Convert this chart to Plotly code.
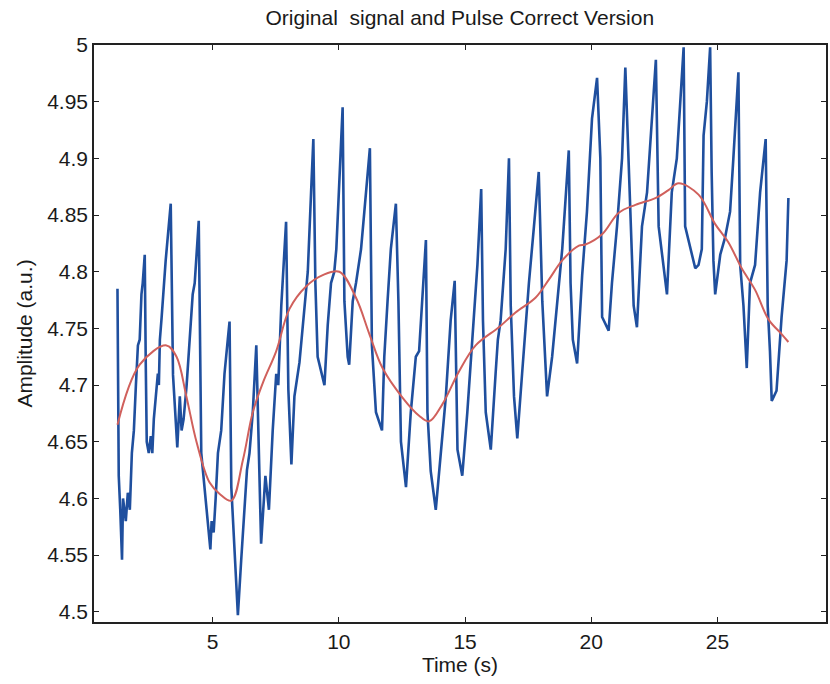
import plotly.graph_objects as go

# Raw pulse signal (time in s, amplitude in a.u.)
signal_t = [
    1.23, 1.26, 1.28, 1.34, 1.41, 1.45, 1.56, 1.64, 1.72, 1.80, 1.88, 1.96, 2.04, 2.11, 2.18, 2.23, 2.31,
    2.35, 2.39, 2.47, 2.55, 2.61, 2.67, 2.75, 2.83, 2.87, 2.91, 2.98, 3.06, 3.14, 3.22, 3.34,
    3.43, 3.54, 3.60, 3.70, 3.77, 3.85, 3.97, 4.09, 4.21, 4.29, 4.39, 4.45,
    4.55, 4.68, 4.80, 4.91, 4.96, 5.04, 5.12, 5.21, 5.34, 5.47, 5.60, 5.67,
    5.74, 5.87, 6.00, 6.13, 6.26, 6.36, 6.46, 6.59, 6.73,
    6.83, 6.92, 7.09, 7.23, 7.38, 7.52, 7.60, 7.72, 7.91,
    8.00, 8.12, 8.24, 8.44, 8.64, 8.77, 8.90, 8.99,
    9.07, 9.16, 9.43, 9.56, 9.69, 9.82, 9.90, 10.02, 10.15,
    10.22, 10.35, 10.41, 10.55, 10.68, 10.88, 11.01, 11.23,
    11.31, 11.47, 11.71, 11.80, 11.93, 12.06, 12.26,
    12.36, 12.46, 12.66, 12.85, 13.05, 13.18, 13.31, 13.45,
    13.51, 13.64, 13.84, 14.04, 14.24, 14.43, 14.59,
    14.70, 14.89, 15.09, 15.29, 15.49, 15.64,
    15.71, 15.82, 16.02, 16.21, 16.30, 16.41, 16.61, 16.74,
    16.81, 16.94, 17.07, 17.26, 17.53, 17.73, 17.92,
    18.06, 18.19, 18.25, 18.45, 18.65, 18.85, 19.11,
    19.18, 19.27, 19.44, 19.64, 19.83, 20.03, 20.23,
    20.36, 20.43, 20.69, 20.82, 21.02, 21.22, 21.35,
    21.48, 21.68, 21.81, 22.01, 22.21, 22.40, 22.56,
    22.67, 23.00, 23.19, 23.39, 23.66,
    23.72, 24.12, 24.25, 24.38, 24.45, 24.58, 24.71,
    24.77, 24.84, 24.91, 25.11, 25.30, 25.50, 25.63, 25.83,
    25.90, 26.03, 26.16, 26.29, 26.49, 26.69, 26.91,
    26.99, 27.08, 27.15, 27.34, 27.54, 27.74, 27.81,
]
signal_v = [
    4.785, 4.676, 4.620, 4.590, 4.546, 4.600, 4.580, 4.605, 4.590, 4.640, 4.660, 4.700, 4.735, 4.740, 4.780, 4.790, 4.815,
    4.720, 4.650, 4.640, 4.655, 4.640, 4.670, 4.690, 4.710, 4.700, 4.740, 4.760, 4.790, 4.810, 4.830, 4.860,
    4.709, 4.660, 4.645, 4.690, 4.660, 4.670, 4.700, 4.740, 4.780, 4.790, 4.830, 4.845,
    4.640, 4.610, 4.580, 4.555, 4.580, 4.570, 4.600, 4.640, 4.660, 4.710, 4.740, 4.756,
    4.610, 4.550, 4.497, 4.545, 4.595, 4.625, 4.640, 4.676, 4.735,
    4.627, 4.560, 4.620, 4.590, 4.660, 4.710, 4.700, 4.770, 4.844,
    4.696, 4.630, 4.690, 4.720, 4.770, 4.800, 4.870, 4.917,
    4.790, 4.725, 4.700, 4.753, 4.790, 4.800, 4.820, 4.880, 4.945,
    4.774, 4.725, 4.718, 4.774, 4.790, 4.820, 4.853, 4.909,
    4.735, 4.676, 4.660, 4.725, 4.774, 4.820, 4.860,
    4.774, 4.650, 4.610, 4.676, 4.725, 4.730, 4.774, 4.828,
    4.676, 4.624, 4.590, 4.643, 4.690, 4.757, 4.792,
    4.643, 4.620, 4.676, 4.740, 4.806, 4.873,
    4.757, 4.676, 4.643, 4.710, 4.740, 4.757, 4.820, 4.900,
    4.770, 4.690, 4.653, 4.710, 4.790, 4.840, 4.888,
    4.774, 4.710, 4.690, 4.725, 4.774, 4.820, 4.907,
    4.790, 4.740, 4.719, 4.797, 4.853, 4.935, 4.971,
    4.900, 4.760, 4.748, 4.790, 4.840, 4.900, 4.980,
    4.900, 4.770, 4.751, 4.840, 4.870, 4.935, 4.987,
    4.840, 4.780, 4.870, 4.900, 4.998,
    4.840, 4.803, 4.806, 4.820, 4.920, 4.950, 4.998,
    4.888, 4.810, 4.780, 4.815, 4.830, 4.853, 4.900, 4.976,
    4.806, 4.770, 4.715, 4.790, 4.806, 4.870, 4.917,
    4.770, 4.730, 4.686, 4.695, 4.760, 4.810, 4.865,
]

# Pulse-corrected (smoothed) version
corrected_t = [
    1.23, 2.11, 3.17, 3.57, 3.96, 4.36, 4.88, 5.28, 5.74, 6.20, 6.59, 6.99, 7.52, 8.04,
    8.70, 9.36, 10.02, 10.68, 11.21, 11.73, 12.52, 13.18, 13.58, 14.10, 14.76, 15.42,
    16.34, 17.00, 17.79, 18.32, 18.85, 19.51, 19.77, 20.43, 21.09, 21.75, 22.54, 23.06,
    23.46, 24.25, 24.91, 25.43, 25.96, 26.49, 27.02, 27.54, 27.81,
]
corrected_v = [
    4.665, 4.718, 4.735, 4.725, 4.690, 4.650, 4.614, 4.604, 4.598, 4.634, 4.676, 4.702, 4.730, 4.767,
    4.787, 4.797, 4.800, 4.777, 4.745, 4.715, 4.689, 4.673, 4.668, 4.683, 4.712, 4.735,
    4.751, 4.764, 4.777, 4.793, 4.810, 4.823, 4.824, 4.833, 4.852, 4.859, 4.865, 4.872,
    4.878, 4.868, 4.842, 4.826, 4.803, 4.784, 4.758, 4.745, 4.738,
]

x_ticks = [5, 10, 15, 20, 25]
y_ticks = [4.5, 4.55, 4.6, 4.65, 4.7, 4.75, 4.8, 4.85, 4.9, 4.95, 5.0]
y_tick_text = ["4.5", "4.55", "4.6", "4.65", "4.7", "4.75", "4.8", "4.85", "4.9", "4.95", "5"]

FONT = "Liberation Sans, Arial, sans-serif"
TEXT = dict(family=FONT, size=21, color="#1a1a1a")

fig = go.Figure()
fig.add_trace(go.Scatter(
    x=signal_t, y=signal_v, mode="lines",
    line=dict(color="#1f4f9e", width=2.6),
    showlegend=False, hoverinfo="skip",
))
fig.add_trace(go.Scatter(
    x=corrected_t, y=corrected_v, mode="lines",
    line=dict(color="#d0605c", width=2, shape="spline", smoothing=1.0),
    showlegend=False, hoverinfo="skip",
))

axis_common = dict(
    showgrid=False, zeroline=False, showline=True, linecolor="#222222", linewidth=1.5,
    mirror="ticks", ticks="inside", ticklen=5, tickcolor="#222222",
    tickfont=TEXT,
)

fig.update_layout(
    width=830, height=684,
    paper_bgcolor="white", plot_bgcolor="white",
    margin=dict(l=94, r=2, t=45, b=62),
    title=dict(text="Original  signal and Pulse Correct Version", x=0.554, xanchor="center",
               y=1 - 18 / 684, yanchor="middle", font=TEXT),
    xaxis=dict(range=[0.3, 29.3], tickvals=x_ticks,
               title=dict(text="Time (s)", font=TEXT, standoff=4),
               **axis_common),
    yaxis=dict(range=[4.491, 5.0], tickvals=y_ticks, ticktext=y_tick_text,
               title=dict(text="Amplitude (a.u.)", font=TEXT, standoff=9),
               **axis_common),
)

fig.write_html("out.html")
